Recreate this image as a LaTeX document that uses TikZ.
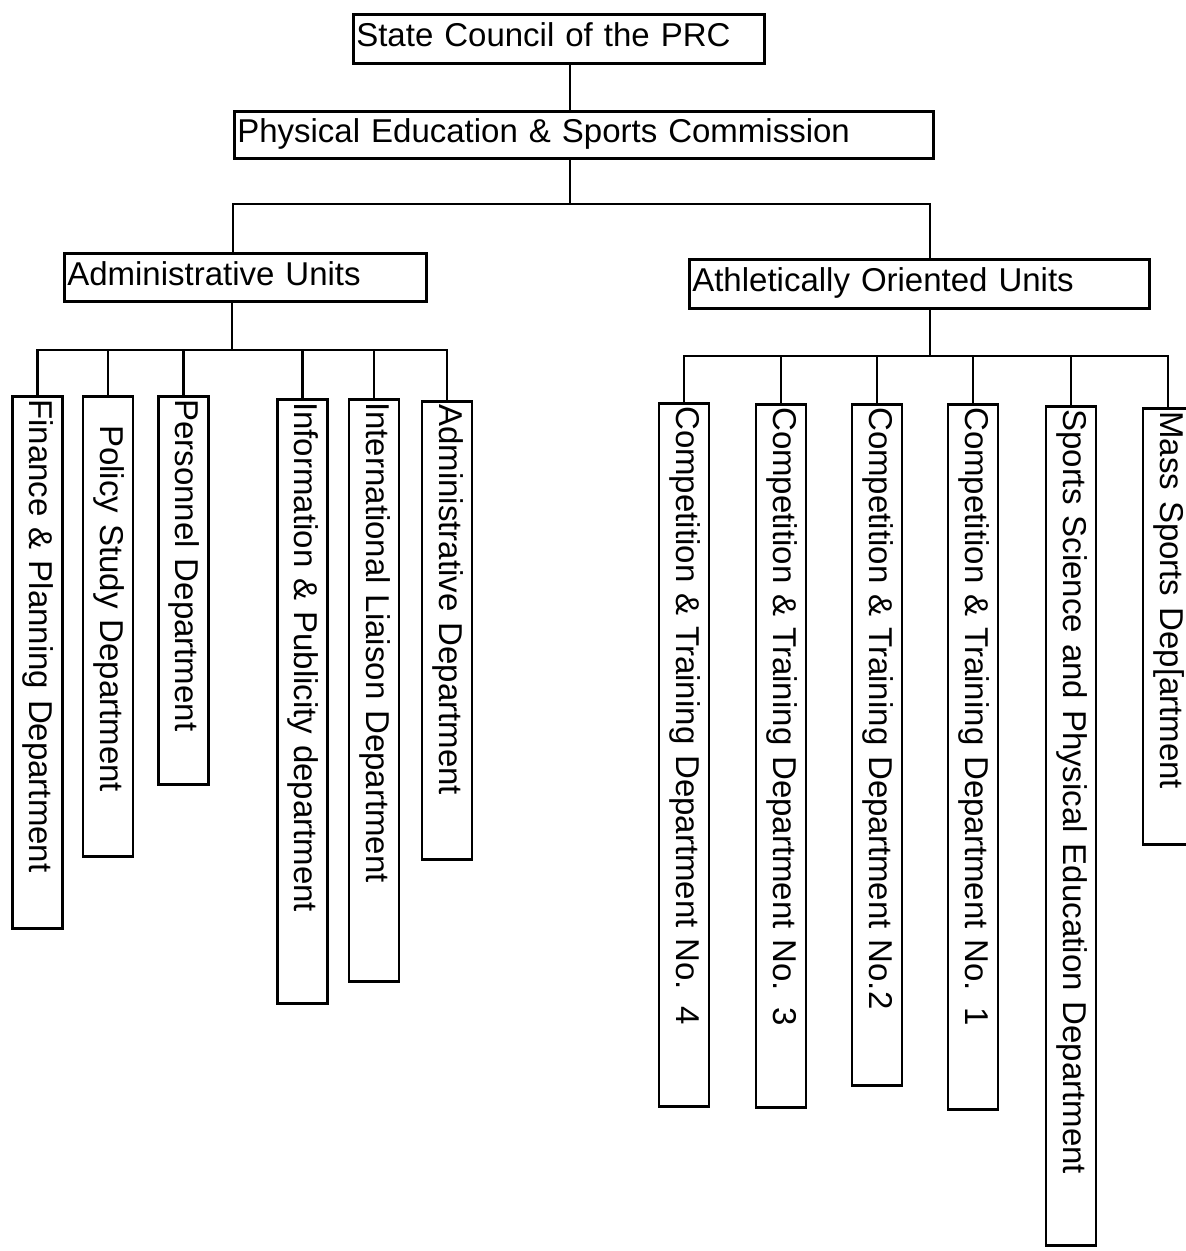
\documentclass[tikz,border=0pt]{standalone}
\usepackage{fontspec}
\setmainfont{Liberation Sans}
\tikzset{
  ubox/.style={rectangle,draw,line width=1.3pt,anchor=north west,
    inner xsep=1.5pt,inner ysep=0pt,align=left,
    font=\fontsize{16.5}{19.8}\selectfont,execute at begin node=\strut},
  dbox/.style={ubox,rotate=-90,anchor=west,minimum height=25pt},
  link/.style={line width=1.3pt},
}

\begin{document}
\begin{tikzpicture}[x=0.5pt,y=-0.5pt]
  \useasboundingbox (0,0) rectangle (1185,1251);

  % top of the chart
  \node[ubox,text width=202.5pt,minimum height=24.5pt] (council) at (352,13) {State Council of the PRC};
  \node[ubox,text width=346.5pt,minimum height=23.5pt] (commission) at (233,110) {Physical Education \& Sports Commission};
  \node[ubox,text width=178pt,minimum height=24pt] (admin) at (63,252) {Administrative Units};
  \node[ubox,text width=227pt,minimum height=24.5pt] (athletic) at (688,258) {Athletically Oriented Units};

  % administrative departments
  \node[dbox,text width=263pt]   (fin)  at (37.5,395) {Finance \& Planning Department};
  \node[dbox,text width=227pt]   (pol)  at (108,395)  {\hspace*{13pt}Policy Study Department};
  \node[dbox,text width=191pt]   (per)  at (183.5,395) {Personnel Department};
  \node[dbox,text width=299pt]   (inf)  at (302.5,398) {Information \& Publicity department};
  \node[dbox,text width=288pt]   (intl) at (374,398)  {International Liaison Department};
  \node[dbox,text width=226pt]   (adm)  at (447,400)  {Administrative Department};

  % athletic departments
  \node[dbox,text width=348.5pt] (ct4)  at (684,402)  {Competition \& Training Department No. 4};
  \node[dbox,text width=348.5pt] (ct3)  at (781,403)  {Competition \& Training Department No. 3};
  \node[dbox,text width=337.5pt] (ct2)  at (877,403)  {Competition \& Training Department No.2};
  \node[dbox,text width=349.5pt] (ct1)  at (973,403)  {Competition \& Training Department No. 1};
  \node[dbox,text width=416.5pt] (sci)  at (1071,405) {Sports Science and Physical Education Department};
  \node[dbox,text width=215pt]   (mass) at (1168,407) {Mass Sports Dep[artment};

  \coordinate (spine) at (570,0);
  \coordinate (topbar) at (570,204);
  \coordinate (lx) at (233,0);
  \coordinate (rx) at (930,0);
  \coordinate (adminbar) at (232,350);
  \coordinate (athbar) at (930,356);

  \draw[link] (council.south -| spine) -- (commission.north -| spine);
  \draw[link] (commission.south -| topbar) -- (topbar);
  \draw[link] (admin.north -| lx) |- (topbar) -| (athletic.north -| rx);

  \draw[link] (admin.south -| adminbar) -- (adminbar);
  \draw[link] (fin.west) |- (adm.west |- adminbar) -- (adm.west);
  \foreach \d in {pol,per,inf,intl}
    \draw[link] (\d.west) -- (\d.west |- adminbar);

  \draw[link] (athletic.south -| athbar) -- (athbar);
  \draw[link] (ct4.west) |- (mass.west |- athbar) -- (mass.west);
  \foreach \d in {ct3,ct2,ct1,sci}
    \draw[link] (\d.west) -- (\d.west |- athbar);

\end{tikzpicture}
\end{document}
